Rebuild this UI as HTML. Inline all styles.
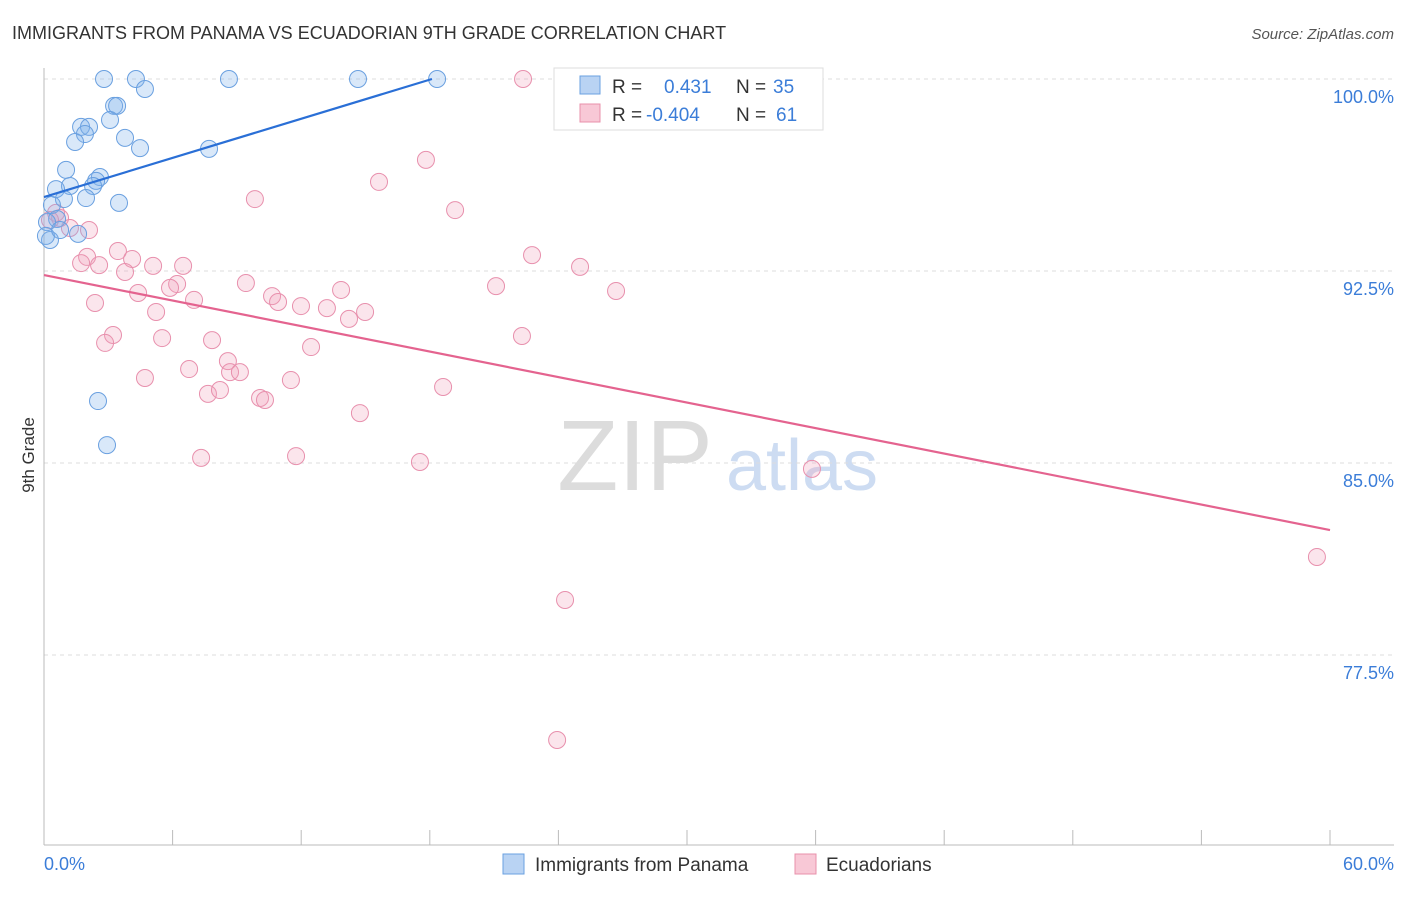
<!DOCTYPE html>
<html><head><meta charset="utf-8"><style>
body{margin:0;background:#fff;font-family:"Liberation Sans",sans-serif}
svg text{font-family:"Liberation Sans",sans-serif}
</style></head><body>
<svg id="c" width="1406" height="892">
<text x="12" y="39" font-size="18" fill="#333">IMMIGRANTS FROM PANAMA VS ECUADORIAN 9TH GRADE CORRELATION CHART</text>
<text x="1394" y="39" font-size="15" fill="#555" font-style="italic" text-anchor="end">Source: ZipAtlas.com</text>
<text x="635" y="490" font-size="100" fill="#dcdcdc" text-anchor="middle" font-family="Liberation Serif">ZIP</text>
<text x="802" y="490" font-size="72" fill="#cddcf2" text-anchor="middle">atlas</text>
<text transform="translate(34,455) rotate(-90)" font-size="17" fill="#333" text-anchor="middle">9th Grade</text>
<g id="grid"></g><g id="axes"></g><g id="pts"></g><g id="lines"></g>
<g>
<rect x="554" y="68" width="269" height="62" fill="#fff" stroke="#ddd"/>
<rect x="580" y="76" width="20" height="18" fill="#b9d3f3" stroke="#6aa0e0"/>
<rect x="580" y="104" width="20" height="18" fill="#f8c8d6" stroke="#e890ab"/>
<text x="612" y="93" font-size="19" fill="#333">R = </text><text x="664" y="93" font-size="19" fill="#3b7dd8">0.431</text>
<text x="736" y="93" font-size="19" fill="#333">N = </text><text x="773" y="93" font-size="19" fill="#3b7dd8">35</text>
<text x="612" y="121" font-size="19" fill="#333">R = </text><text x="646" y="121" font-size="19" fill="#3b7dd8">-0.404</text>
<text x="736" y="121" font-size="19" fill="#333">N = </text><text x="776" y="121" font-size="19" fill="#3b7dd8">61</text>
</g>
<g>
<rect x="503" y="854" width="21" height="20" fill="#b9d3f3" stroke="#6aa0e0"/>
<text x="535" y="871" font-size="19" fill="#333">Immigrants from Panama</text>
<rect x="795" y="854" width="21" height="20" fill="#f8c8d6" stroke="#e890ab"/>
<text x="826" y="871" font-size="19" fill="#333">Ecuadorians</text>
</g>
</svg>
<script>
const yTicks=[100,92.5,85,77.5];
const yTickLabels=["100.0%","92.5%","85.0%","77.5%"];
const blueX=[2.80,4.29,8.63,14.65,18.34,26.41,4.71,3.27,3.41,3.08,3.78,4.48,7.70,1.73,2.10,1.91,1.45,1.03,1.21,0.56,2.61,2.43,2.29,1.96,0.93,3.50,0.37,0.61,0.14,1.59,0.28,0.09,2.52,2.94,0.75];
const blueY=[100,100,100,100,100,100,99.61,98.95,98.95,98.40,97.70,97.30,97.27,98.13,98.13,97.85,97.54,96.45,95.82,95.70,96.17,96.02,95.82,95.35,95.31,95.16,95.08,94.53,94.41,93.95,93.71,93.87,87.42,85.70,94.10];
const pinkX=[22.35,17.82,15.63,9.84,19.18,22.77,25.01,26.69,21.09,2.01,3.45,4.11,1.73,2.57,5.09,6.49,3.78,6.21,5.88,9.42,4.39,10.64,7.00,10.92,11.99,13.20,13.86,14.98,14.23,2.38,5.23,3.22,2.85,5.51,7.84,12.46,22.30,6.77,8.58,8.68,9.14,4.71,11.52,18.62,7.65,8.21,10.08,10.31,14.74,7.33,11.76,17.54,35.83,59.39,24.31,23.94,0.56,0.75,1.21,0.28,2.10];
const pinkY=[100,96.84,95.98,95.31,94.88,93.12,92.66,91.72,91.91,93.05,93.28,92.97,92.81,92.73,92.70,92.70,92.46,91.99,91.84,92.03,91.64,91.52,91.37,91.29,91.13,91.05,91.76,90.90,90.63,91.25,90.90,90.00,89.69,89.88,89.80,89.53,89.96,88.67,88.98,88.55,88.55,88.32,88.24,87.97,87.70,87.85,87.54,87.46,86.95,85.20,85.27,85.04,84.77,81.33,79.65,74.18,94.77,94.57,94.18,94.49,94.10];
const blueTrend=[[0,95.39],[18.1,100]];
const pinkTrend=[[0,92.34],[60,82.38]];
const NS="http://www.w3.org/2000/svg";
const X=v=>44+v*(1286/60), Y=v=>79+(100-v)*25.6;
function mk(t,a,p){const e=document.createElementNS(NS,t);for(const k in a)e.setAttribute(k,a[k]);p.appendChild(e);return e;}
const grid=document.getElementById('grid'),axes=document.getElementById('axes'),pts=document.getElementById('pts'),lines=document.getElementById('lines');
yTicks.forEach((t,i)=>{
 const l=mk('line',{x1:44,x2:1394,y1:Y(t),y2:Y(t),stroke:'#ddd','stroke-dasharray':'4,4'},grid);
 
 
 const tx=mk('text',{x:1394,y:Y(t)+24,'font-size':18,fill:'#3b7dd8','text-anchor':'end'},axes);
 tx.textContent=yTickLabels[i];
 
 
});
mk('line',{x1:44,x2:44,y1:68,y2:845,stroke:'#bbb'},axes);
mk('line',{x1:44,x2:1394,y1:845,y2:845,stroke:'#bbb'},axes);
for(let i=0;i<=10;i++){const t=mk('line',{x1:X(i*6),x2:X(i*6),y1:830,y2:845,stroke:'#bbb'},axes);
 
 }
const x0=mk('text',{x:44,y:870,'font-size':18,fill:'#3b7dd8'},axes);x0.textContent='0.0%';


const x1=mk('text',{x:1394,y:870,'font-size':18,fill:'#3b7dd8','text-anchor':'end'},axes);x1.textContent='60.0%';


function dots(xs,ys,fill,stroke,name){xs.forEach((x,i)=>{const c=mk('circle',{cx:X(x),cy:Y(ys[i]),r:8.5,fill:fill,stroke:stroke,'stroke-width':1},pts);
 
 });}
dots(pinkX,pinkY,'rgba(242,160,188,0.28)','#e890ad','ecuadorians-point');
dots(blueX,blueY,'rgba(130,178,235,0.3)','#6aa0e0','panama-point');
const b=mk('line',{x1:X(blueTrend[0][0]),y1:Y(blueTrend[0][1]),x2:X(blueTrend[1][0]),y2:Y(blueTrend[1][1]),stroke:'#2a6fd6','stroke-width':2.2},lines);


const p=mk('line',{x1:X(pinkTrend[0][0]),y1:Y(pinkTrend[0][1]),x2:X(pinkTrend[1][0]),y2:Y(pinkTrend[1][1]),stroke:'#e4638f','stroke-width':2.2},lines);


</script>
</body></html>
